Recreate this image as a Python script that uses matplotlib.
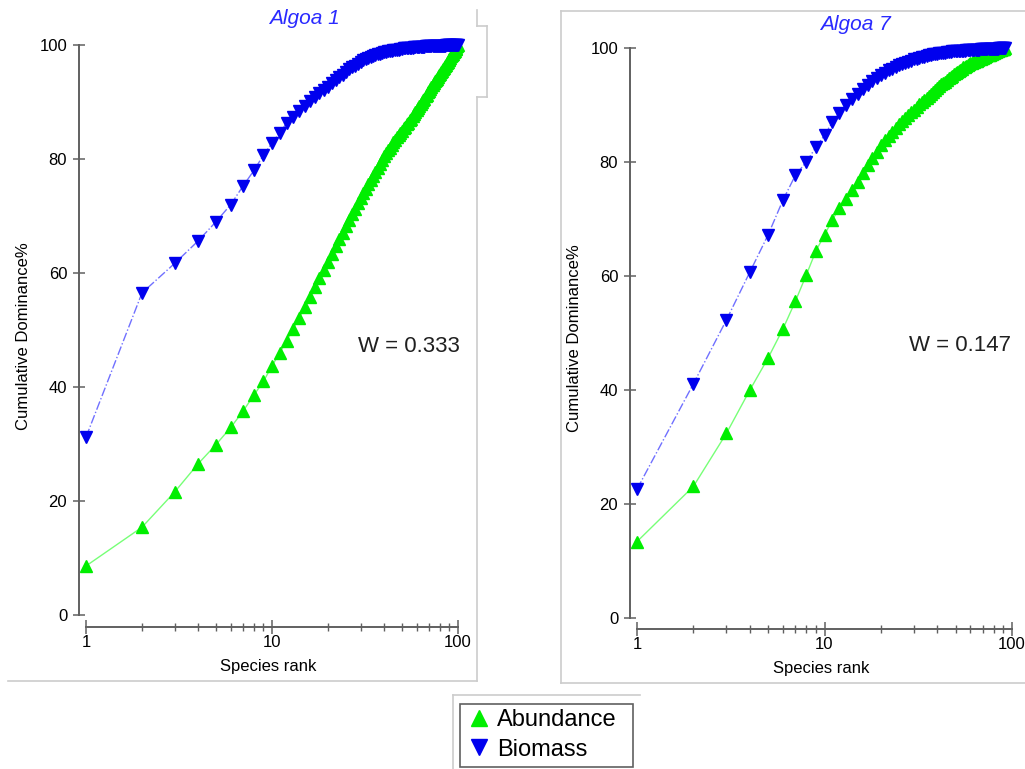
import matplotlib
matplotlib.use("Agg")
import matplotlib.pyplot as plt
from matplotlib.lines import Line2D
from matplotlib.patches import Rectangle
import numpy as np

plt.rcParams['font.family'] = ['Liberation Sans', 'DejaVu Sans']

# Algoa 1 - cumulative dominance (%) by species rank 1..100
algoa1_abundance = [
    8.6, 15.4, 21.6, 26.5, 29.9, 32.9, 35.8, 38.6, 41.0, 43.7,
    46.0, 48.1, 50.2, 52.1, 54.0, 55.8, 57.5, 59.1, 60.5, 61.9,
    63.4, 64.7, 65.9, 67.1, 68.2, 69.3, 70.3, 71.3, 72.2, 73.1,
    74.0, 74.8, 75.6, 76.3, 77.0, 77.7, 78.4, 79.1, 79.8, 80.5,
    81.0, 81.5, 82.0, 82.5, 83.0, 83.4, 83.8, 84.2, 84.6, 85.0,
    85.4, 85.7, 86.1, 86.4, 86.8, 87.1, 87.5, 87.9, 88.2, 88.6,
    88.9, 89.3, 89.6, 90.0, 90.3, 90.6, 91.0, 91.3, 91.7, 92.0,
    92.3, 92.6, 93.0, 93.3, 93.6, 93.9, 94.1, 94.4, 94.7, 95.0,
    95.2, 95.5, 95.8, 96.0, 96.3, 96.5, 96.8, 97.0, 97.3, 97.5,
    97.8, 98.0, 98.3, 98.5, 98.8, 99.0, 99.3, 99.5, 99.8, 100.0,
]
algoa1_biomass = [
    31.2, 56.5, 61.7, 65.6, 69.0, 72.0, 75.3, 78.0, 80.7, 82.8,
    84.6, 86.3, 87.4, 88.4, 89.3, 90.1, 90.8, 91.5, 92.1, 92.7,
    93.3, 93.8, 94.3, 94.8, 95.3, 95.8, 96.1, 96.4, 96.7, 97.0,
    97.3, 97.5, 97.7, 97.9, 98.1, 98.2, 98.4, 98.5, 98.6, 98.7,
    98.8, 98.9, 99.0, 99.0, 99.1, 99.1, 99.2, 99.2, 99.3, 99.3,
    99.4, 99.4, 99.4, 99.5, 99.5, 99.5, 99.5, 99.6, 99.6, 99.6,
    99.6, 99.7, 99.7, 99.7, 99.7, 99.7, 99.8, 99.8, 99.8, 99.8,
    99.8, 99.8, 99.8, 99.9, 99.9, 99.9, 99.9, 99.9, 99.9, 99.9,
    99.9, 99.9, 99.9, 99.9, 99.9, 100.0, 100.0, 100.0, 100.0, 100.0,
    100.0, 100.0, 100.0, 100.0, 100.0, 100.0, 100.0, 100.0, 100.0, 100.0,
]

# Algoa 7 - species rank 1..92
algoa7_abundance = [
    13.4, 23.1, 32.4, 40.0, 45.6, 50.7, 55.6, 60.2, 64.4, 67.2,
    69.8, 71.9, 73.5, 75.1, 76.5, 78.0, 79.4, 80.7, 81.8, 82.9,
    83.8, 84.6, 85.3, 86.0, 86.6, 87.2, 87.7, 88.2, 88.7, 89.2,
    89.7, 90.1, 90.5, 90.9, 91.3, 91.6, 92.0, 92.3, 92.6, 93.0,
    93.3, 93.6, 93.9, 94.1, 94.4, 94.7, 94.9, 95.1, 95.4, 95.6,
    95.8, 96.0, 96.2, 96.4, 96.6, 96.7, 96.9, 97.0, 97.2, 97.3,
    97.4, 97.5, 97.6, 97.7, 97.8, 97.9, 98.0, 98.1, 98.2, 98.3,
    98.4, 98.5, 98.6, 98.7, 98.8, 98.8, 98.9, 99.0, 99.1, 99.2,
    99.3, 99.3, 99.4, 99.5, 99.6, 99.6, 99.7, 99.8, 99.8, 99.9,
    99.9, 100.0,
]
algoa7_biomass = [
    22.6, 41.1, 52.3, 60.7, 67.2, 73.3, 77.7, 80.0, 82.6, 84.7,
    87.0, 88.6, 90.0, 91.0, 92.0, 92.8, 93.5, 94.2, 94.8, 95.3,
    95.7, 96.1, 96.4, 96.7, 97.0, 97.2, 97.4, 97.6, 97.8, 98.0,
    98.1, 98.3, 98.4, 98.5, 98.6, 98.7, 98.8, 98.9, 99.0, 99.0,
    99.1, 99.1, 99.2, 99.2, 99.3, 99.3, 99.3, 99.4, 99.4, 99.4,
    99.4, 99.5, 99.5, 99.5, 99.5, 99.5, 99.6, 99.6, 99.6, 99.6,
    99.6, 99.7, 99.7, 99.7, 99.7, 99.7, 99.7, 99.8, 99.8, 99.8,
    99.8, 99.8, 99.8, 99.8, 99.9, 99.9, 99.9, 99.9, 99.9, 99.9,
    99.9, 99.9, 99.9, 99.9, 100.0, 100.0, 100.0, 100.0, 100.0, 100.0,
    100.0, 100.0,
]

panels = [
    ("Algoa 1", algoa1_abundance, algoa1_biomass, "W = 0.333"),
    ("Algoa 7", algoa7_abundance, algoa7_biomass, "W = 0.147"),
]

W, H = 1025, 769
fig = plt.figure(figsize=(W / 100, H / 100), dpi=100)


def fx(x):
    return x / W


def fy(y):
    return 1 - y / H


# pixel layout of each panel: y-spine x, rank-1 x, rank-100 x, value-100 y, value-0 y, x-axis y
layout = [
    dict(spine=79, x1=86, x100=458, y100=45, y0=615, xaxis=627,
         title=(304, 19), wtext=(409, 347)),
    dict(spine=630, x1=637, x100=1012, y100=48, y0=618, xaxis=629,
         title=(855, 25), wtext=(960, 345)),
]

axis_col = "#606060"
green = "#00ee00"
blue = "#0000ee"

for (name, abund, biom, wlab), L in zip(panels, layout):
    dec = (L['x100'] - L['x1']) / 2.0
    ppu = (L['y0'] - L['y100']) / 100.0
    ax = fig.add_axes([fx(L['spine']), fy(L['xaxis']),
                       fx(L['x100'] - L['spine']), (L['xaxis'] - L['y100']) / H])
    ax.set_xscale('log')
    ax.set_xlim(10 ** (-(L['x1'] - L['spine']) / dec), 100)
    ax.set_ylim(-(L['xaxis'] - L['y0']) / ppu, 100)
    ax.patch.set_alpha(0)

    ranks_a = np.arange(1, len(abund) + 1)
    ranks_b = np.arange(1, len(biom) + 1)
    ax.plot(ranks_a, abund, '-', color='#77ff77', lw=1.0, clip_on=False)
    ax.plot(ranks_a, abund, '^', color=green, ms=9, mec=green, ls='none', clip_on=False)
    ax.plot(ranks_b, biom, '-.', color='#7070ff', lw=1.0, clip_on=False)
    ax.plot(ranks_b, biom, 'v', color=blue, ms=9, mec=blue, ls='none', clip_on=False)

    for s in ['top', 'right']:
        ax.spines[s].set_visible(False)
    ax.spines['left'].set_bounds(0, 100)
    ax.spines['bottom'].set_bounds(1, 100)
    for s in ['left', 'bottom']:
        ax.spines[s].set_color(axis_col)
        ax.spines[s].set_linewidth(1.4)

    ax.set_yticks([0, 20, 40, 60, 80, 100])
    ax.set_xticks([1, 10, 100])
    ax.set_xticklabels(['1', '10', '100'])
    ax.tick_params(axis='y', direction='inout', length=9, width=1.1, color=axis_col,
                   labelsize=12, pad=4)
    ax.tick_params(axis='x', which='major', direction='inout', length=10, width=1.1,
                   color=axis_col, labelsize=12, pad=1)
    ax.tick_params(axis='x', which='minor', direction='inout', length=6, width=1.0,
                   color=axis_col)
    ax.set_xlabel("Species rank", fontsize=12, labelpad=6)
    ax.set_ylabel("Cumulative Dominance%", fontsize=12, labelpad=6)

    fig.text(fx(L['title'][0]), fy(L['title'][1]), name, color='#2a2aff',
             style='italic', fontsize=15, ha='center', va='center')
    fig.text(fx(L['wtext'][0]), fy(L['wtext'][1]), wlab, fontsize=16,
             ha='center', va='center', color='#202020')

# panel frames (light grey)
frame_col = "#cccccc"
frame_lines = [
    ([8, 477], [681, 681]),
    ([477, 477], [97, 681]),
    ([477, 477], [10, 26]),
    ([477, 487], [26, 26]),
    ([487, 487], [26, 97]),
    ([487, 477], [97, 97]),
    ([561, 561], [11, 683]),
    ([561, 1025], [11, 11]),
    ([561, 1025], [683, 683]),
    ([453, 453], [695, 769]),
    ([453, 640], [695, 695]),
]
for xs, ys in frame_lines:
    fig.add_artist(Line2D([fx(v) for v in xs], [fy(v) for v in ys],
                          color=frame_col, lw=1.2))

# legend
fig.add_artist(Rectangle((fx(460), fy(767)), fx(633 - 460), (767 - 704) / H,
                         fill=False, edgecolor='#606060', lw=1.2))
handles = [Line2D([], [], marker='^', color=green, ls='none', ms=12),
           Line2D([], [], marker='v', color=blue, ls='none', ms=12)]
fig.legend(handles, ['Abundance', 'Biomass'], loc='center left',
           bbox_to_anchor=(fx(453), fy(735)), frameon=False, fontsize=17,
           handlelength=1.0, handletextpad=0.25, labelspacing=0.3, borderpad=0.1)

fig.savefig("out.png", dpi=100, facecolor='white')
